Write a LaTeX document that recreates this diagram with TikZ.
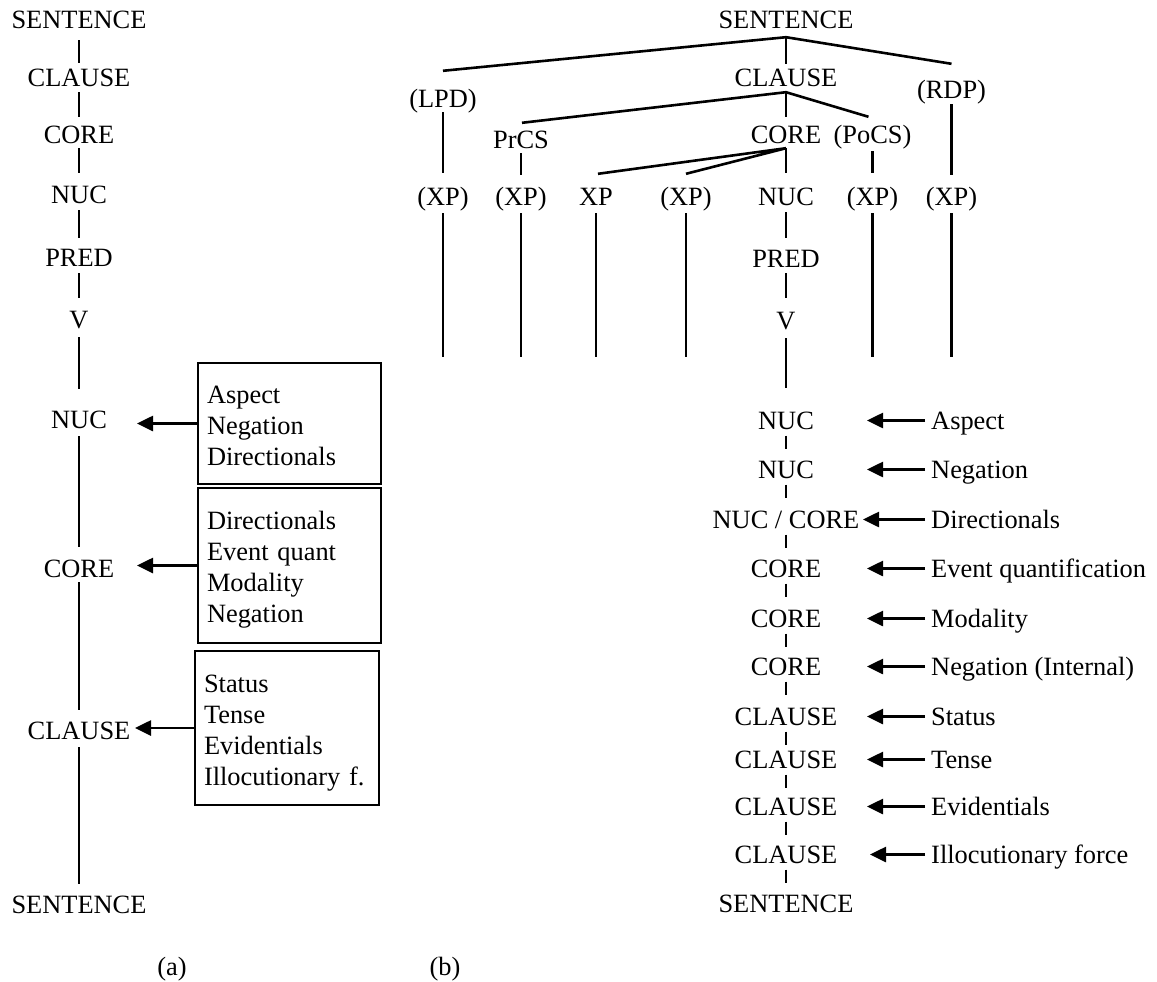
\documentclass[tikz,border=0pt]{standalone}
\usepackage{fontspec}
\setmainfont{Liberation Serif}
\usetikzlibrary{arrows.meta}

\begin{document}
\begin{tikzpicture}[x=1pt,y=-1pt,
  lab/.style={anchor=base, inner sep=0pt, text height=17pt, text depth=0pt,
              font=\fontsize{26.4}{31}\selectfont},
  tline/.style={line width=2.6pt},
  opbox/.style={draw, line width=2pt, inner xsep=9pt, inner ysep=0pt,
                align=left, text width=165pt, minimum width=183pt,
                text height=21pt, font=\fontsize{26.4}{31}\selectfont},
  pointer/.style={line width=2.6pt, -{Triangle[length=16pt,width=15pt]}},
  dashlink/.style={line width=2.6pt, dash pattern=on 13.5pt off 400pt,
                   shorten <=6.5pt},
]
\useasboundingbox (0,0) rectangle (1157,982);

% ---------- (a): layered structure with operator boxes ----------
\node[lab] (aS1) at (79,29)  {SENTENCE};
\node[lab] (aC1) at (79,87)  {CLAUSE};
\node[lab] (aK1) at (79,143) {CORE};
\node[lab] (aN1) at (79,203) {NUC};
\node[lab] (aP)  at (79,266) {PRED};
\node[lab] (aV)  at (79,328) {V};
\node[lab] (aN2) at (79,428) {NUC};
\node[lab] (aK2) at (79,577) {CORE};
\node[lab] (aC2) at (79,739) {CLAUSE};
\node[lab] (aS2) at (79,913) {SENTENCE};

\draw[tline, shorten <=11pt, shorten >=7pt]  (aS1.south) -- (aC1.north);
\draw[tline, shorten <=5pt,  shorten >=9pt]  (aC1.south) -- (aK1.north);
\draw[tline, shorten <=5pt,  shorten >=13pt] (aK1.south) -- (aN1.north);
\draw[tline, shorten <=7pt,  shorten >=11pt] (aN1.south) -- (aP.north);
\draw[tline, shorten <=7pt,  shorten >=13pt] (aP.south)  -- (aV.north);
\draw[tline, shorten <=9pt,  shorten >=22pt] (aV.south)  -- (aN2.north);
\draw[tline, shorten <=8pt,  shorten >=13pt] (aN2.south) -- (aK2.north);
\draw[tline, shorten <=5pt,  shorten >=12pt] (aK2.south) -- (aC2.north);
\draw[tline, shorten <=8pt,  shorten >=12pt] (aC2.south) -- (aS2.north);

\node[opbox, minimum height=121pt, text depth=62pt] (bx1) at (289.5,423.5)
  {Aspect\\Negation\\Directionals};
\node[opbox, minimum height=155pt, text depth=93pt, text height=20pt]
  (bx2) at (289.5,565.5)
  {Directionals\\Event quant\\Modality\\Negation};
\node[opbox, minimum height=154pt, text depth=93pt,
      minimum width=184pt, text width=166pt]
  (bx3) at (287,728)
  {Status\\Tense\\Evidentials\\Illocutionary f.};

\draw[pointer, shorten >=58pt] (bx1.west) -- (bx1.west -| aN2);
\draw[pointer, shorten >=58pt] (bx2.west) -- (bx2.west -| aK2);
\draw[pointer, shorten >=56pt] (bx3.west) -- (bx3.west -| aC2);

% ---------- (b): constituent projection and operator projection ----------
\node[lab] (bS)   at (786,29)  {SENTENCE};
\node[lab] (bC)   at (786,87)  {CLAUSE};
\node[lab] (lpd)  at (443,107) {(LPD)};
\node[lab] (rdp)  at (951.5,99) {(RDP)};
\node[lab] (prcs) at (521,148) {PrCS};
\node[lab] (bK)   at (786,143) {CORE};
\node[lab] (pocs) at (872.5,143) {(PoCS)};
\node[lab] (xp1)  at (443,205) {(XP)};
\node[lab] (xp2)  at (521,205) {(XP)};
\node[lab] (xp3)  at (596,205) {XP};
\node[lab] (xp4)  at (686,205) {(XP)};
\node[lab] (bN)   at (786,205) {NUC};
\node[lab] (xp5)  at (872.5,205) {(XP)};
\node[lab] (xp6)  at (951.5,205) {(XP)};
\node[lab] (bP)   at (786,267) {PRED};
\node[lab] (bV)   at (786,329) {V};

% branching points and branch ends
\path (bS.south) ++(0,8)    coordinate (sApex);
\path (bC.south) ++(0,5)    coordinate (cApex);
\path (bK.south) ++(0,5)    coordinate (kApex);
\path (lpd.north) ++(0,-19) coordinate (lpdTop);
\path (rdp.north) ++(0,-18) coordinate (rdpTop);
\path (prcs.north) ++(1,-8) coordinate (prcsTop);
\path (pocs.north) ++(-4,-9) coordinate (pocsTop);
\path (xp3.north) ++(2,-14) coordinate (xp3Top);
\path (xp4.north) ++(0,-14) coordinate (xp4Top);
\coordinate (xpBottom) at (0,357);

\draw[tline] (lpdTop) -- (sApex) -- (rdpTop);
\draw[tline, shorten >=6pt] (sApex) -- (bC.north);
\draw[tline] (prcsTop) -- (cApex) -- (pocsTop);
\draw[tline, shorten >=9pt] (cApex) -- (bK.north);
\draw[tline] (xp3Top) -- (kApex) -- (xp4Top);
\draw[tline, shorten >=15pt] (kApex) -- (bN.north);

\draw[tline, shorten <=5pt, shorten >=15pt] (lpd.south)  -- (xp1.north);
\draw[tline, shorten <=5pt, shorten >=13pt] (prcs.south) -- (xp2.north);
\draw[tline, shorten <=8pt, shorten >=15pt] (pocs.south) -- (xp5.north);
\draw[tline, shorten <=5pt, shorten >=13pt] (rdp.south)  -- (xp6.north);

\foreach \n in {xp1,xp2,xp3,xp4,xp5,xp6}
  \draw[tline, shorten <=8pt] (\n.south) -- (\n.south |- xpBottom);

\draw[tline, shorten <=7pt, shorten >=12pt] (bN.south) -- (bP.north);
\draw[tline, shorten <=6pt, shorten >=14pt] (bP.south) -- (bV.north);

% operator projection
\node[lab] (r1)  at (786,429) {NUC};
\node[lab] (r2)  at (786,478) {NUC};
\node[lab] (r3)  at (786,528) {NUC / CORE};
\node[lab] (r4)  at (786,577) {CORE};
\node[lab] (r5)  at (786,627) {CORE};
\node[lab] (r6)  at (786,675) {CORE};
\node[lab] (r7)  at (786,725) {CLAUSE};
\node[lab] (r8)  at (786,768) {CLAUSE};
\node[lab] (r9)  at (786,815) {CLAUSE};
\node[lab] (r10) at (786,863) {CLAUSE};
\node[lab] (r11) at (786,912) {SENTENCE};

\draw[tline, shorten <=9pt, shorten >=24pt] (bV.south) -- (r1.north);
\foreach \a/\b in {r1/r2,r2/r3,r3/r4,r4/r5,r5/r6,r6/r7,r7/r8,r8/r9,r9/r10,r10/r11}
  \draw[dashlink] (\a.south) -- (\b.north);

\node[lab, anchor=base west] (g1)  at (931,429) {Aspect};
\node[lab, anchor=base west] (g2)  at (931,478) {Negation};
\node[lab, anchor=base west] (g3)  at (931,528) {Directionals};
\node[lab, anchor=base west] (g4)  at (931,577) {Event quantification};
\node[lab, anchor=base west] (g5)  at (931,627) {Modality};
\node[lab, anchor=base west] (g6)  at (931,675) {Negation (Internal)};
\node[lab, anchor=base west] (g7)  at (931,725) {Status};
\node[lab, anchor=base west] (g8)  at (931,768) {Tense};
\node[lab, anchor=base west] (g9)  at (931,815) {Evidentials};
\node[lab, anchor=base west] (g10) at (931,863) {Illocutionary force};

\foreach \g/\r in {g1/r1,g2/r2,g4/r4,g5/r5,g6/r6,g7/r7,g8/r8,g9/r9}
  \draw[pointer, shorten <=6pt, shorten >=81pt] (\g.west) -- (\r.center);
\draw[pointer, shorten <=6pt, shorten >=77pt] (g3.west) -- (r3.center);
\draw[pointer, shorten <=6pt, shorten >=84pt] (g10.west) -- (r10.center);

% panel captions
\node[lab] (capA) at (172,975) {(a)};
\node[lab] (capB) at (445,975) {(b)};
\end{tikzpicture}
\end{document}
